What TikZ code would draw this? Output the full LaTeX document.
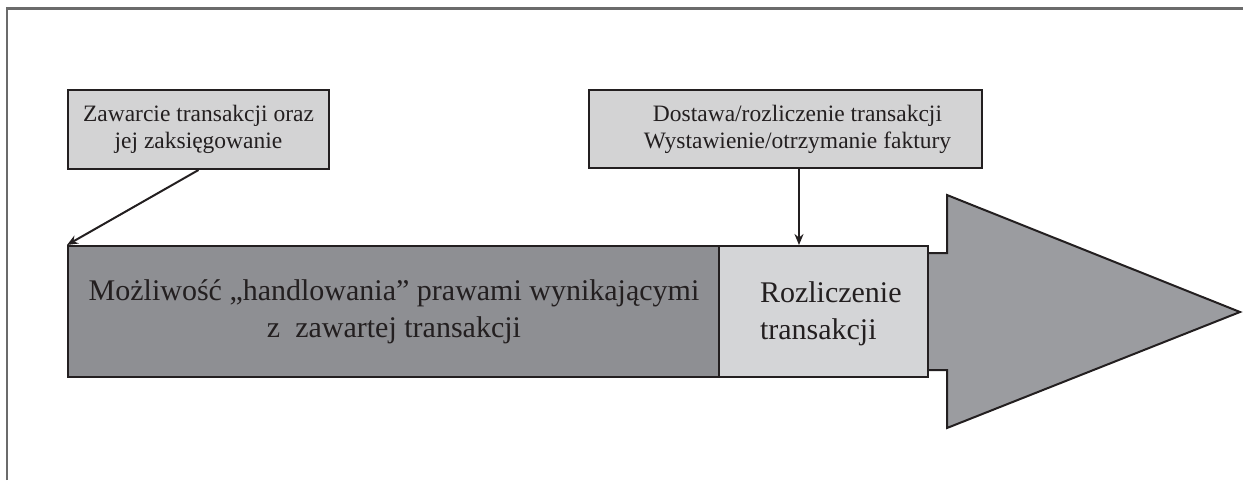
\documentclass[tikz,border=0pt]{standalone}
\usepackage{fontspec}
\setmainfont{Liberation Serif}
\usetikzlibrary{arrows.meta}
\definecolor{ink}{HTML}{231F20}
\definecolor{framegray}{HTML}{6B6B6B}
\definecolor{darkfill}{HTML}{8E8F93}
\definecolor{arrowfill}{HTML}{9B9CA0}
\definecolor{lightfill}{HTML}{D4D5D7}
\definecolor{topfill}{HTML}{D3D3D4}
\tikzset{
  topbox/.style={draw=ink, line width=2pt, fill=topfill, inner sep=0pt,
    align=center, text=ink, font=\fontsize{23.5}{27}\selectfont},
  bandbox/.style={draw=ink, line width=2pt, inner sep=0pt, text=ink,
    font=\fontsize{30}{37}\selectfont},
  conn/.style={draw=ink, line width=2pt, -{Stealth[length=11pt,width=9pt]}},
  framel/.style={draw=framegray, line width=2.2pt}
}
\begin{document}
\begin{tikzpicture}[x=1pt,y=-1pt]
\useasboundingbox (0,0) rectangle (1243,480);
% partial frame
\draw[framel] (7,480) -- (7,8.5) -- (1243,8.5);
% big arrow behind
\path[draw=ink, line width=2pt, fill=arrowfill, line join=miter]
  (850,253) -- (947,253) -- (947,195) -- (1240,312) -- (947,428) -- (947,370) -- (850,370);
% band boxes
\node[bandbox, fill=darkfill, minimum width=652pt, minimum height=131pt, align=center]
  (dark) at (394,311.5) {Możliwość „handlowania” prawami wynikającymi\\z\ \ zawartej transakcji};
\node[bandbox, fill=lightfill, minimum width=209pt, minimum height=131pt]
  (light) at (823.5,311.5) {};
\node[bandbox, draw=none, align=left, anchor=west] (lighttext) at (759,314) {Rozliczenie\\transakcji};
% top boxes
\node[topbox, minimum width=261pt, minimum height=79pt] (box1) at (198.5,129.5)
  {Zawarcie transakcji oraz\\jej zaksięgowanie};
\node[topbox, minimum width=393pt, minimum height=78pt] (box2) at (785.5,129)
  {\hspace*{24pt}Dostawa/rozliczenie transakcji\\\hspace*{24pt}Wystawienie/otrzymanie faktury};
% connectors
\draw[conn] (box1.south) -- (dark.north west);
\draw[conn] ([xshift=13.5pt]box2.south) -- ([xshift=-24.5pt]light.north);
\end{tikzpicture}
\end{document}
